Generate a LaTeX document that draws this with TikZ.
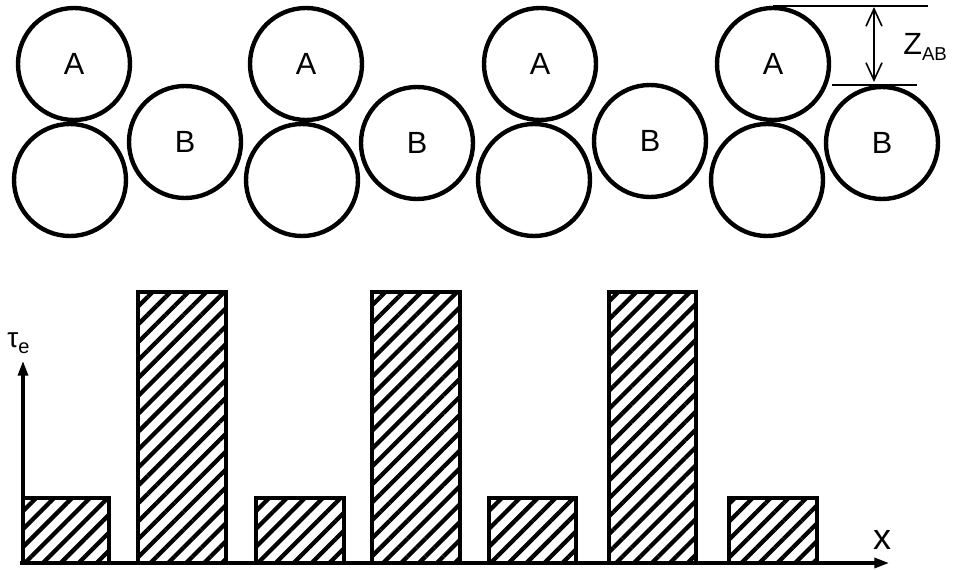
\documentclass[tikz,border=0pt]{standalone}
\usepackage{fontspec}
\setmainfont{Liberation Sans}
\usetikzlibrary{arrows.meta,patterns.meta}

\tikzset{
  ball/.style={draw, circle, line width=3.3pt, minimum size=84pt, inner sep=0pt,
    font=\fontsize{23}{26}\selectfont},
  hbar/.style={line width=2.6pt, pattern={Lines[angle=45,distance=9.5pt,line width=3.2pt]}},
  axis/.style={line width=2.4pt, -{Stealth[length=11pt,width=7.5pt,inset=0pt]}},
  dimline/.style={line width=1.2pt},
  dimarrow/.style={line width=1.2pt, {Straight Barb[length=13pt,width=12pt]}-{Straight Barb[length=13pt,width=12pt]}}
}

\begin{document}
\begin{tikzpicture}[x=0.75pt, y=-0.75pt]
  \useasboundingbox (0,0) rectangle (956,570);

  % packed spheres
  \foreach \ax/\lx/\bx/\by [count=\i] in {74/70/185/142, 306/302/417/143, 540/534/650/141, 773/767/882/143} {
    \node[ball] (A\i) at (\ax,64) {A};
    \node[ball] (L\i) at (\lx,180) {};
    \node[ball] (B\i) at (\bx,\by) {B};
  }

  % spacing Z_AB
  \coordinate (ztop) at (A4.north);
  \coordinate (zbot) at (B4.north);
  \draw[dimline] (ztop) -- ++(155,0);
  \draw[dimline] (zbot -| 832,0) -- (zbot -| 917,0);
  \coordinate (zt) at (874,7);
  \coordinate (zb) at (874,82);
  \draw[dimarrow] (zt) -- (zb);
  \node[anchor=base west, inner sep=0pt, font=\fontsize{23}{26}\selectfont] (zab) at (903,55)
    {Z\raisebox{-0.35ex}{\fontsize{14}{16}\selectfont AB}};

  % stress bars
  \foreach \l/\r/\t in {23/109/498, 138/226/292, 256/344/498, 372/460/292,
                         489/576/498, 609/696/292, 729/817/498} {
    \draw[hbar] (\l,563) rectangle (\r,\t);
  }

  % axes
  \coordinate (o) at (23,563);
  \coordinate (xend) at (889,563);
  \coordinate (yend) at (23,361);
  \draw[axis] (20,563) -- (xend);
  \draw[axis] (o) -- (yend);
  \node[anchor=base west, inner sep=0pt, font=\fontsize{21}{24}\selectfont] (tau) at (7,347)
    {τ\raisebox{-0.45ex}{\fontsize{15}{17}\selectfont e}};
  \node[anchor=base, inner sep=0pt, font=\fontsize{27}{30}\selectfont] (xlab) at (882,549) {x};
\end{tikzpicture}
\end{document}
